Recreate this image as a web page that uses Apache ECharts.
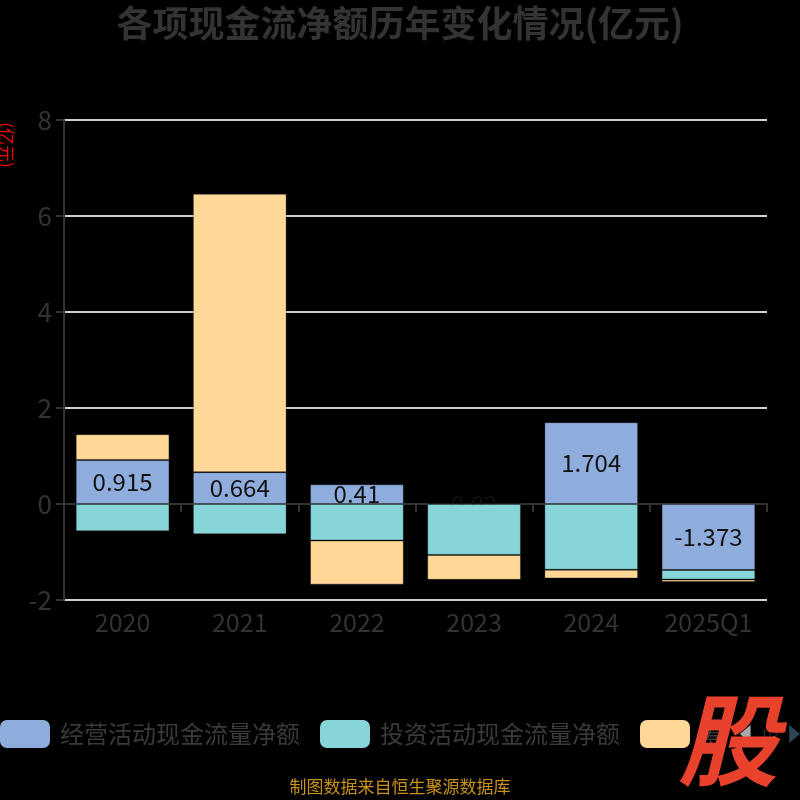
<!DOCTYPE html>
<html>
<head>
<meta charset="utf-8">
<script src="https://cdn.jsdelivr.net/npm/echarts@6/dist/echarts.min.js"></script>
<style>
  html, body { margin: 0; padding: 0; background: #000; }
  #chart { width: 800px; height: 800px; }
</style>
</head>
<body>
<div id="chart"></div>
<script>
// 数据
const years = ["2020", "2021", "2022", "2023", "2024", "2025Q1"];
const seriesNames = ["经营活动现金流量净额", "投资活动现金流量净额", "筹资活动现金流量净额"];
const operating = [0.915, 0.664, 0.41, 0.02, 1.704, -1.373];
const investing = [-0.57, -0.63, -0.76, -1.06, -1.37, -0.2];
const financing = [0.54, 5.80, -0.92, -0.52, -0.18, -0.05];
const yTicks = { min: -2, max: 8, interval: 2 };

const font = "Noto Sans CJK SC";
const colors = ["#8faddc", "#87d5d8", "#ffd898"];

const chart = echarts.init(document.getElementById("chart"));

const barStyle = {
  borderColor: "rgba(0,0,0,0.3)",
  borderWidth: 1
};

chart.setOption({
  backgroundColor: "#000",
  color: colors,
  textStyle: { fontFamily: font },
  title: {
    text: "各项现金流净额历年变化情况(亿元)",
    left: "center",
    top: 0,
    textStyle: { color: "#333", fontSize: 36, fontWeight: "bold", fontFamily: font }
  },
  legend: {
    type: "scroll",
    left: 0,
    right: 0,
    top: 720,
    padding: 0,
    itemWidth: 50,
    itemHeight: 28,
    itemGap: 20,
    icon: "roundRect",
    itemStyle: { borderWidth: 0 },
    textStyle: { color: "#3a3a3a", fontSize: 24, fontFamily: font, padding: [0, 0, 0, 5] },
    pageIconColor: "#2f4554",
    pageIconInactiveColor: "#aaa",
    pageIconSize: 18,
    pageTextStyle: { color: "#333" },
    data: seriesNames
  },
  grid: { left: 64, right: 33, top: 120, bottom: 200 },
  xAxis: [
    {
      type: "category",
      data: years,
      axisLine: { show: true, onZero: true, lineStyle: { color: "#333", width: 2 } },
      axisTick: { show: true, length: 8, lineStyle: { color: "#333", width: 2 } },
      axisLabel: { show: false }
    },
    {
      type: "category",
      data: years,
      position: "bottom",
      axisLine: { show: false },
      axisTick: { show: false },
      axisLabel: { color: "#333", fontSize: 25, margin: 10, fontFamily: font }
    }
  ],
  yAxis: {
    type: "value",
    min: yTicks.min,
    max: yTicks.max,
    interval: yTicks.interval,
    axisLine: { show: true, lineStyle: { color: "#333", width: 2 } },
    axisTick: { show: true, length: 8, lineStyle: { color: "#333", width: 2 } },
    axisLabel: { color: "#333", fontSize: 26, margin: 12, fontFamily: font },
    splitLine: { lineStyle: { color: "#d0d0d0", width: 2 } }
  },
  series: [
    {
      name: seriesNames[0],
      type: "bar",
      stack: "total",
      barWidth: "80%",
      z: 1,
      itemStyle: barStyle,
      label: {
        show: true,
        position: "inside",
        color: "#111",
        textBorderWidth: 0,
        textBorderColor: "transparent",
        fontSize: 24,
        fontFamily: font
      },
      data: operating
    },
    {
      name: seriesNames[1],
      type: "bar",
      stack: "total",
      z: 3,
      itemStyle: barStyle,
      data: investing
    },
    {
      name: seriesNames[2],
      type: "bar",
      stack: "total",
      z: 3,
      itemStyle: barStyle,
      data: financing
    }
  ],
  graphic: [
    {
      type: "text",
      x: 6,
      y: 145,
      rotation: -Math.PI / 2,
      style: {
        text: "(亿元)",
        fill: "#ff0000",
        font: "17px '" + font + "'",
        align: "center",
        verticalAlign: "middle"
      }
    },
    {
      type: "text",
      left: "center",
      top: 778,
      style: {
        text: "制图数据来自恒生聚源数据库",
        fill: "#c8921c",
        font: "17px '" + font + "'"
      }
    },
    {
      type: "text",
      left: 678,
      top: 690,
      z: 100,
      style: {
        text: "股",
        fill: "#e8412c",
        font: "italic bold 100px '" + font + "'"
      }
    }
  ]
});
</script>
</body>
</html>
